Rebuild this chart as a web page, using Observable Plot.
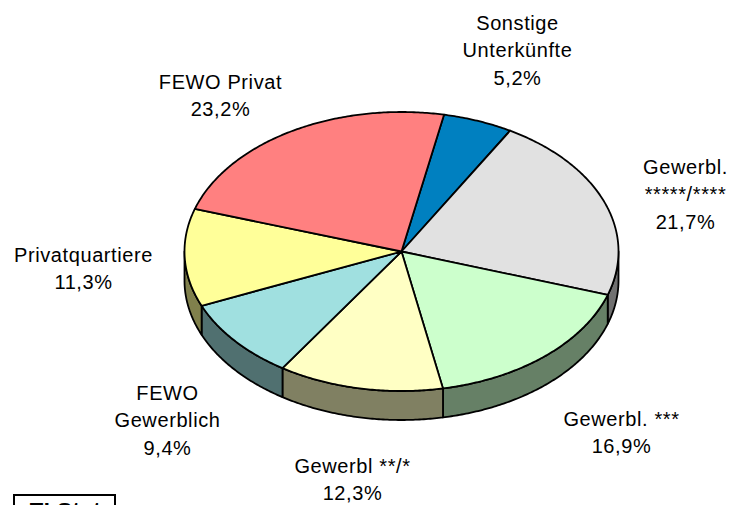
<!DOCTYPE html>
<html><head><meta charset="utf-8">
<script src="https://cdn.jsdelivr.net/npm/d3@7"></script>
<script src="https://cdn.jsdelivr.net/npm/@observablehq/plot@0.6"></script>
<style>html,body{margin:0;padding:0;background:#fff}svg{display:block}</style>
</head><body><div id="chart"></div>
<script>
const categories = ["Sonstige Unterkünfte","Gewerbl. *****/****","Gewerbl. ***","Gewerbl **/*","FEWO Gewerblich","Privatquartiere","FEWO Privat"];
const shares = [5.2,21.7,16.9,12.3,9.4,11.3,23.2];
const shareLabels = ["5,2%","21,7%","16,9%","12,3%","9,4%","11,3%","23,2%"];
const labelLines = ["Sonstige\nUnterkünfte","Gewerbl.\n*****/****","Gewerbl. ***","Gewerbl **/*","FEWO\nGewerblich","Privatquartiere","FEWO Privat"];
const faceColors = ["#0080C0","#E1E1E1","#CCFFCC","#FFFFC4","#A0E0E0","#FFFF99","#FF8080"];
const sideColors = ["#004060","#707070","#668066","#808062","#507070","#80804C","#804040"];

const W = 729, H = 505;
const cx = 401, cy = 251, rx = 217, ry = 139.5, depth = 29;
// unit-disc coordinates map onto the ellipse through the scales
const xRange = [cx - rx, cx + rx], yRange = [cy + ry, cy - ry];
const ux = px => (px - cx) / rx, uy = py => (cy - py) / ry;
const depthU = depth / ry;
const startDeg = 11.3;

const pie = d3.pie().sort(null).startAngle(startDeg * Math.PI / 180).endAngle((startDeg + 360) * Math.PI / 180);
const arcs = pie(shares);
const pt = (a, dy = 0) => ({x: Math.sin(a), y: Math.cos(a) - dy});
const arcPts = (a0, a1, dy = 0) => {
  const n = Math.max(2, Math.ceil((a1 - a0) / 0.01));
  return d3.range(n + 1).map(i => pt(a0 + (a1 - a0) * i / n, dy));
};

const faces = [], sides = [];
arcs.forEach((d, i) => {
  faces.push(...[{x: 0, y: 0}, ...arcPts(d.startAngle, d.endAngle)].map(p => ({...p, z: i, c: faceColors[i]})));
  // front half of the rim: 90 to 270 degrees, and once round
  for (const k of [0, 1]) {
    const lo = Math.max(d.startAngle, Math.PI / 2 + k * 2 * Math.PI);
    const hi = Math.min(d.endAngle, 3 * Math.PI / 2 + k * 2 * Math.PI);
    if (hi > lo) {
      sides.push(...[...arcPts(lo, hi), ...arcPts(lo, hi, depthU).reverse()].map(p => ({...p, z: i, c: sideColors[i]})));
    }
  }
});

// label centres (first + share line block)
const labelX = [517, 685, 621, 352, 167, 83, 220].map(ux);
const labelY = [48, 192, 430, 477, 418, 266, 93].map(uy);
const labels = categories.map((c, i) => ({x: labelX[i], y: labelY[i], t: labelLines[i] + "\n" + shareLabels[i]}));

const plot = Plot.plot({
  width: W, height: H, margin: 0,
  style: {background: "transparent", fontFamily: "'Liberation Sans', Arial, sans-serif", letterSpacing: "0.6px"},
  x: {domain: [-1, 1], range: xRange, axis: null},
  y: {domain: [-1, 1], range: yRange, axis: null},
  marks: [
    Plot.line(sides, {x: "x", y: "y", z: "z", fill: "c", stroke: "#000", strokeWidth: 1.8, curve: "linear-closed", strokeLinejoin: "round"}),
    Plot.line(faces, {x: "x", y: "y", z: "z", fill: "c", stroke: "#000", strokeWidth: 1.8, curve: "linear-closed", strokeLinejoin: "round"}),
    Plot.text(labels, {x: "x", y: "y", text: "t", fontSize: 20, lineHeight: 1.375, fill: "#000", textAnchor: "middle"}),
    Plot.rect([{x1: ux(14), x2: ux(115), y1: uy(495), y2: uy(530)}], {x1: "x1", x2: "x2", y1: "y1", y2: "y2", fill: "#fff", stroke: "#000", strokeWidth: 2}),
    Plot.text(["TI.Stat"], {x: ux(65), y: uy(510), fontSize: 22, fontWeight: "bold", fill: "#000", textAnchor: "middle"})
  ]
});
document.getElementById("chart").append(plot);
</script></body></html>
